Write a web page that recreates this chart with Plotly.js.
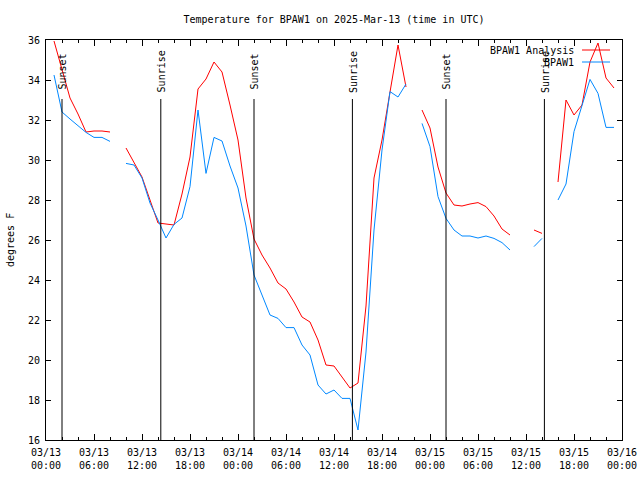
<!DOCTYPE html>
<html>
<head>
<meta charset="utf-8">
<script src="https://cdn.plot.ly/plotly-3.0.1.min.js"></script>
<style>html,body{margin:0;padding:0;background:#fff}</style>
</head>
<body>
<div id="chart" style="width:640px;height:480px"></div>
<script>
// hourly values starting 2025-03-13 00:00 UTC (null = no data)
const startTime = '2025-03-13T00:00:00Z';
const analysis = [null,35.95,34.5,33.1,32.3,31.4,31.45,31.45,31.4,null,
  30.6,29.85,29.15,28.0,26.85,26.8,26.75,28.3,30.15,33.55,
  34.05,34.9,34.4,32.75,31.0,28.1,26.05,25.25,24.6,23.85,
  23.55,22.9,22.15,21.9,21.0,19.75,19.7,19.15,18.6,18.85,
  22.7,29.1,31.0,33.4,35.75,33.65,null,32.5,31.6,29.65,
  28.35,27.75,27.7,27.8,27.87,27.67,27.2,26.55,26.25,null,
  null,26.5,26.33,null,28.9,33.0,32.25,32.75,34.9,35.85,
  34.1,33.6];
const observed = [null,34.25,32.4,32.05,31.7,31.38,31.13,31.13,30.93,null,
  29.83,29.75,29.1,27.85,27.0,26.1,26.78,27.1,28.67,32.5,
  29.33,31.13,30.95,29.7,28.6,26.7,24.25,23.25,22.25,22.08,
  21.62,21.62,20.75,20.25,18.75,18.3,18.5,18.08,18.08,16.5,
  20.4,26.5,30.5,33.42,33.15,33.8,null,31.83,30.67,28.17,
  27.08,26.5,26.2,26.2,26.1,26.2,26.08,25.87,25.5,null,
  null,25.67,26.08,null,28.0,28.8,31.42,32.67,34.03,33.33,
  31.63,31.63];
const seriesNames = ['BPAW1 Analysis', 'BPAW1'];
const seriesColors = ['#ff0000', '#0088ff'];
// sun events, hours after start
const eventHours = [2.0, 14.35, 26.0, 38.3, 50.0, 62.3];
const eventLabels = ['Sunset','Sunrise','Sunset','Sunrise','Sunset','Sunrise'];

const t0 = Date.parse(startTime);
function hourToDate(h){
  return new Date(t0 + h*3600000).toISOString().replace('T',' ').replace('Z','');
}
const times = analysis.map((_, i) => hourToDate(i));

const FONT = 'DejaVu Sans Mono, Liberation Mono, monospace';

const traces = [analysis, observed].map((ys, k) => ({
  x: times, y: ys, type: 'scatter', mode: 'lines',
  name: seriesNames[k], connectgaps: false,
  line: {color: seriesColors[k], width: 1},
  showlegend: false, hoverinfo: 'skip'
}));

const shapes = [];
const annotations = [];
eventHours.forEach((h, i) => {
  const xd = hourToDate(h);
  shapes.push({type:'line', xref:'x', yref:'paper', x0:xd, x1:xd, y0:0, y1:0.8525,
    line:{color:'#000', width:1}});
  annotations.push({xref:'x', yref:'paper', x:xd, y:0.921, text:eventLabels[i],
    textangle:-90, showarrow:false, xanchor:'center', yanchor:'middle', xshift:1,
    font:{family:FONT, size:10, color:'#000'}});
});

// gnuplot-style key: text then line sample
const keyY = [0.975, 0.945];
seriesNames.forEach((n, k) => {
  annotations.push({xref:'paper', yref:'paper', x:0.92, y:keyY[k], text:n,
    showarrow:false, xanchor:'right', yanchor:'middle',
    font:{family:FONT, size:10, color:'#000'}});
  shapes.push({type:'line', xref:'paper', yref:'paper', x0:0.9306, x1:0.9792,
    y0:keyY[k], y1:keyY[k], line:{color:seriesColors[k], width:1}});
});

annotations.push({xref:'paper', yref:'paper', x:-0.0625, y:0.5, text:'degrees F',
  textangle:-90, showarrow:false, xanchor:'center', yanchor:'middle',
  font:{family:FONT, size:10, color:'#000'}});

const layout = {
  width: 640, height: 480,
  margin: {l:46, r:18, t:40, b:40, pad:0},
  paper_bgcolor: '#fff', plot_bgcolor: '#fff',
  font: {family: FONT, size: 10, color: '#000'},
  title: {text: 'Temperature for BPAW1 on 2025-Mar-13 (time in UTC)',
    x: 0.5, xref: 'paper', y: 0.96, yref: 'container', yanchor: 'middle',
    font: {family: FONT, size: 10, color: '#000'}},
  showlegend: false,
  xaxis: {
    type: 'date',
    range: [hourToDate(0), hourToDate(72)],
    tick0: hourToDate(0), dtick: 6*3600000,
    tickformat: '%m/%d<br>%H:%M',
    ticks: 'inside', ticklen: 6, tickcolor: '#000', tickwidth: 1,
    ticklabelstandoff: 3,
    minor: {dtick: 2*3600000, ticks:'inside', ticklen: 3, tickcolor:'#000'},
    showline: true, linecolor: '#000', linewidth: 1, mirror: 'allticks',
    showgrid: false, zeroline: false,
    tickfont: {family: FONT, size: 10, color: '#000'}
  },
  yaxis: {
    range: [16, 36], tick0: 16, dtick: 2,
    ticks: 'inside', ticklen: 5, tickcolor: '#000', tickwidth: 1,
    ticklabelstandoff: 3,
    showline: true, linecolor: '#000', linewidth: 1, mirror: 'allticks',
    showgrid: false, zeroline: false,
    tickfont: {family: FONT, size: 10, color: '#000'}
  },
  shapes: shapes,
  annotations: annotations
};

Plotly.newPlot('chart', traces, layout, {staticPlot: true, displayModeBar: false});
</script>
</body>
</html>
